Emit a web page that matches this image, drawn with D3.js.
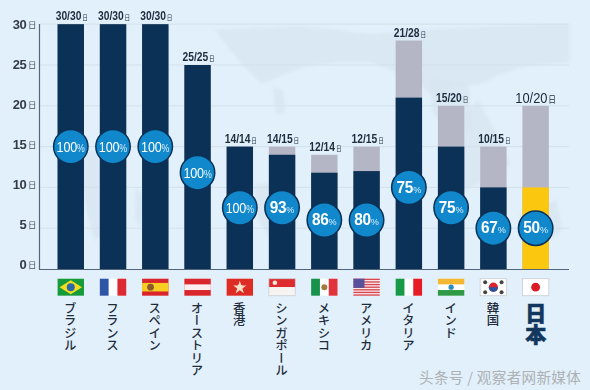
<!DOCTYPE html>
<html><head><meta charset="utf-8">
<script src="https://cdn.jsdelivr.net/npm/d3@7"></script>
<style>html,body{margin:0;padding:0;background:#e1f0fa}svg{display:block}</style>
</head><body><svg id="c" width="590" height="390"></svg>
<script>
const countries=["ブラジル","フランス","スペイン","オーストリア","香港","シンガポール","メキシコ","アメリカ","イタリア","インド","韓国","日本"];
const topLabels=["30/30","30/30","30/30","25/25","14/14","14/15","12/14","12/15","21/28","15/20","10/15","10/20"];
const totalDays=[30,30,30,25,15,15,14,15,28,20,15,20];
const doneDays=[30,30,30,25,15,14,11.8,12,21,15,10,10];
const percents=[100,100,100,100,100,93,86,80,75,75,67,50];
const badgeDays=[15,15,15,11.8,7.5,7.5,6,6,10,7.5,5,5];
const yTicks=[0,5,10,15,20,25,30];
const flagIds=["br","fr","es","at","hk","sg","mx","us","it","in","kr","jp"];

const svg=d3.select("#c");
const defs=svg.append("defs");
const f=defs.append("filter").attr("id","soft").attr("x","-5%").attr("y","-5%").attr("width","110%").attr("height","110%");
f.append("feGaussianBlur").attr("stdDeviation",1.5);
const FONT="'Liberation Sans',Arial,sans-serif", JP="'Noto Sans CJK JP',sans-serif";
const x=d3.scaleBand().domain(d3.range(12)).range([47,559.4]).paddingInner(0.375).paddingOuter(0.25);
const y=d3.scaleLinear().domain([0,30]).range([269,24.2]);
const yLab=d3.scaleLinear().domain([0,30]).range([264,24]);
const bw=x.bandwidth();

svg.append("rect").attr("width",590).attr("height",390).attr("fill","#e1f0fa");

// faint world map
const land=["M215 30L300 26 372 34 420 30 500 26 569 24 569 62 525 66 500 74 480 84 452 86 437 100 420 84 395 72 372 62 340 62 305 66 285 74 262 84 240 62Z",
"M273 87L283 90 285 112 276 114Z",
"M430 78L468 84 472 128 450 134 432 110Z",
"M478 100L500 140 510 165 485 180 466 190 452 178 445 140 460 120Z",
"M78 150L100 152 108 190 102 235 94 240 86 205Z",
"M135 190L150 195 146 232 136 220Z",
"M255 185L290 182 292 215 270 238 258 218Z",
"M520 215L556 200 562 230 540 246 522 240Z"];
svg.append("g").attr("filter","url(#soft)").selectAll("path").data(land).join("path")
 .attr("d",d=>d).attr("fill","#d6e4ef").attr("opacity",.7);

// grid
svg.append("g").selectAll("line").data(yTicks.filter(d=>d>0)).join("line")
 .attr("x1",40).attr("x2",569).attr("y1",d=>y(d)).attr("y2",d=>y(d))
 .attr("stroke","#d4e1eb").attr("stroke-width",1);

// bars
const bars=svg.append("g");
bars.selectAll(".t").data(totalDays).join("rect").attr("class","t")
 .attr("x",(d,i)=>x(i)).attr("width",bw).attr("y",d=>y(d)).attr("height",d=>y(0)-y(d)).attr("fill","#b4b6c6");
bars.selectAll(".d").data(doneDays).join("rect").attr("class","d")
 .attr("x",(d,i)=>x(i)).attr("width",bw).attr("y",d=>y(d)).attr("height",d=>y(0)-y(d))
 .attr("fill",(d,i)=>i===11?"#fcc70f":"#0b3157");

// axes
svg.append("path").attr("d",`M39.5 24V269.5H569`).attr("fill","none").attr("stroke","#52657a").attr("stroke-width",1.2);
svg.append("g").selectAll("text").data(yTicks).join("text")
 .attr("x",26.5).attr("y",d=>yLab(d)+4.8).attr("text-anchor","end")
 .attr("font-family",FONT).attr("font-weight",700).attr("font-size",13).attr("letter-spacing",-.3).attr("fill","#333b45").text(d=>d);
svg.append("g").selectAll("text").data(yTicks).join("text")
 .attr("x",28).attr("y",d=>yLab(d)+4.2)
 .attr("font-family",JP).attr("font-size",8.5).attr("fill","#4a5563").text("日");

// top labels
const tl=svg.append("g").selectAll("text").data(topLabels).join("text")
 .attr("transform",(d,i)=>`translate(${x(i)+bw/2+(i===11?0:1)},${y(totalDays[i])-(i===11?3:4)}) scale(.86,1)`).attr("text-anchor","middle")
 .attr("font-family",FONT).attr("font-weight",(d,i)=>i===11?400:700).attr("fill","#1d2c3d")
 .attr("font-size",(d,i)=>i===11?15:12);
tl.append("tspan").text(d=>d);
tl.append("tspan").attr("font-family",JP).attr("font-weight",400).attr("dx",1).attr("font-size",(d,i)=>i===11?9:6.5).text("日");

// badges
const b=svg.append("g").selectAll("g").data(percents).join("g")
 .attr("transform",(d,i)=>`translate(${x(i)+bw/2},${y(badgeDays[i])})`);
b.append("circle").attr("r",17.2).attr("fill","#1088cb").attr("stroke","#0b3157").attr("stroke-width",1.5);
const bt=b.append("text").attr("text-anchor","middle").attr("y",5.2).attr("fill","#fff").attr("font-family",FONT)
 .attr("transform",d=>d===100?"scale(.84,1)":"scale(.96,1)");
bt.append("tspan").attr("font-size",d=>d===100?15:16).attr("font-weight",d=>d===100?400:700).attr("letter-spacing",-.2).text(d=>d);
bt.append("tspan").attr("font-size",d=>d===100?10.5:9.5).attr("fill","#d8eefa").text("%");

// flags
const fy=278.7, fh=17;
const fg=svg.append("g").selectAll("g").data(flagIds).join("g").attr("transform",(d,i)=>`translate(${x(i)},${fy})`);
const R=(g,xx,yy,w,h,c)=>g.append("rect").attr("x",xx).attr("y",yy).attr("width",w).attr("height",h).attr("fill",c);
fg.each(function(id){
 const g=d3.select(this), w=bw,h=fh;
 R(g,0,0,w,h,"#fff");
 if(id==="br"){R(g,0,0,w,h,"#169b3c");g.append("path").attr("d",`M${w/2} 1.5L${w-2} ${h/2} ${w/2} ${h-1.5} 2 ${h/2}Z`).attr("fill","#f5dc1f");g.append("circle").attr("cx",w/2).attr("cy",h/2).attr("r",4).attr("fill","#2a69a8");}
 if(id==="fr"){R(g,0,0,w/3,h,"#2d57a6");R(g,w*2/3,0,w/3,h,"#dc2a32");}
 if(id==="es"){R(g,0,0,w,h,"#d8262c");R(g,0,h/4,w,h/2,"#f7cf22");g.append("circle").attr("cx",w*.32).attr("cy",h/2).attr("r",3.4).attr("fill","#8c5a2a");}
 if(id==="at"){R(g,0,0,w,h,"#d8262c");R(g,0,h/3,w,h/3,"#fbeef0");}
 if(id==="hk"){R(g,0,0,w,h,"#dd2b26");g.append("path").attr("d",d3.symbol(d3.symbolStar,55)()).attr("transform",`translate(${w/2},${h/2+.5})`).attr("fill","#fbe0c8");g.append("circle").attr("cx",w/2).attr("cy",h/2).attr("r",2.6).attr("fill","#fbe0c8");}
 if(id==="sg"){R(g,0,0,w,h/2,"#dd2b30");R(g,0,h/2,w,h/2,"#f6f3f3");g.append("circle").attr("cx",6).attr("cy",4).attr("r",2.3).attr("fill","#fbe6dc");}
 if(id==="mx"){R(g,0,0,w/3,h,"#16924c");R(g,w*2/3,0,w/3,h,"#e0333c");g.append("circle").attr("cx",w/2).attr("cy",h/2).attr("r",3).attr("fill","#a5793e");}
 if(id==="us"){R(g,0,0,w,h,"#f5e9ea");d3.range(0,7).forEach(k=>R(g,0,k*h/6.5,w,h/13,"#d9444e"));R(g,0,0,w*.42,h*.54,"#5a4f9b");}
 if(id==="it"){R(g,0,0,w/3,h,"#169a48");R(g,w*2/3,0,w/3,h,"#e61c26");}
 if(id==="in"){R(g,0,0,w,h/3,"#f4b733");R(g,0,h*2/3,w,h/3,"#2f9a46");g.append("circle").attr("cx",w/2).attr("cy",h/2).attr("r",2.6).attr("fill","#2b8cc4");}
 if(id==="kr"){g.append("circle").attr("cx",w/2).attr("cy",h/2).attr("r",4.6).attr("fill","#d8262c");g.append("path").attr("d",`M${w/2-4.6} ${h/2}a4.6 4.6 0 0 0 9.2 0z`).attr("fill","#2456a4");
   [[5,3.5],[w-5,3.5],[5,h-3.5],[w-5,h-3.5]].forEach(p=>g.append("circle").attr("cx",p[0]).attr("cy",p[1]).attr("r",2).attr("fill","#444"));}
 if(id==="jp"){g.append("circle").attr("cx",w/2).attr("cy",h/2).attr("r",4.4).attr("fill","#dc1c24");}
 g.append("rect").attr("x",0).attr("y",0).attr("width",w).attr("height",h).attr("fill","none").attr("stroke",id==="jp"||id==="kr"||id==="sg"?"#c9ced4":"none").attr("stroke-width",.8);
});

// country labels
svg.append("g").selectAll("text").data(countries).join("text")
 .attr("transform",(d,i)=>`translate(${x(i)+bw/2-(i===11?0:.5)},${i===11?303:302})`)
 .style("writing-mode","vertical-rl").attr("font-family",JP)
 .attr("font-weight",(d,i)=>i===11?900:500)
 .attr("font-size",(d,i)=>i===11?21:12.4)
 .attr("stroke",(d,i)=>i===11?"#12375e":"none").attr("stroke-width",.5)
 .attr("fill",(d,i)=>i===11?"#12375e":"#1f2c3c").text(d=>d);

// watermark
svg.append("text").attr("x",419).attr("y",383).attr("font-family","'Noto Sans CJK SC',sans-serif").attr("font-size",14.6)
 .attr("fill","#aeb1b5").attr("letter-spacing",.3).text("头条号 / 观察者网新媒体");
</script></body></html>
